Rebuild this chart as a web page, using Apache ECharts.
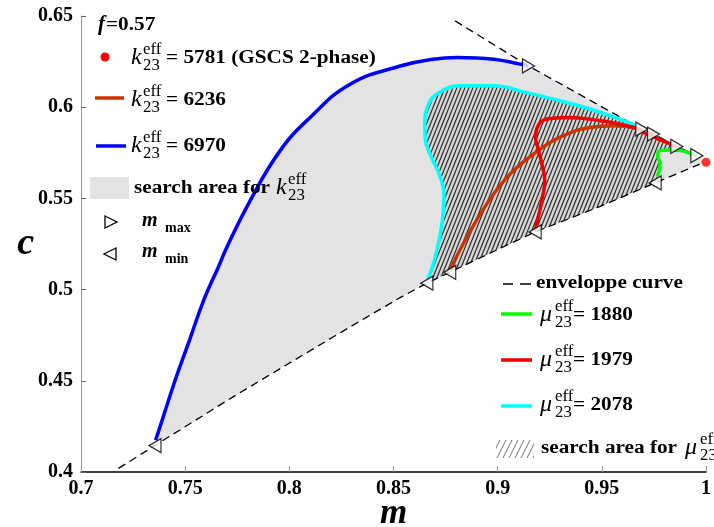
<!DOCTYPE html>
<html><head><meta charset="utf-8">
<script src="https://cdn.jsdelivr.net/npm/echarts@6/dist/echarts.min.js"></script>
<style>html,body{margin:0;padding:0;background:#fff}#c{width:714px;height:527px}</style>
</head><body><div id="c"></div>
<script>
// ---- tick labels ----
const xTickLabels = ['0.7','0.75','0.8','0.85','0.9','0.95','1'];
const yTickLabels = ['0.4','0.45','0.5','0.55','0.6','0.65'];

// ---- envelope curve (dashed) ----
const lowerEnvM = [0.718,0.7355,0.773,0.800,0.821,0.837,0.853,0.866,0.877,0.901,0.918,0.949,0.9756,0.997];
const lowerEnvC = [0.402,0.4145,0.4412,0.4597,0.474,0.4848,0.4955,0.5035,0.5095,0.5225,0.5316,0.5455,0.5585,0.5688];
const upperEnvM = [0.8796,0.9148,0.9692,0.9748,0.986,0.9956];
const upperEnvC = [0.6473,0.6226,0.588,0.5853,0.5785,0.5734];

// ---- k23eff = 6970 (blue) ----
const k6970M = [0.7358,0.7380,0.7451,0.7520,0.7590,0.7660,0.7700,0.7812,0.7956,0.8100,0.8292,0.8532,0.8690,0.8806,0.8980,0.9108,0.9148];
const k6970C = [0.4175,0.4250,0.4500,0.4720,0.4945,0.5125,0.5232,0.5488,0.5762,0.5944,0.6126,0.6226,0.6263,0.6272,0.6263,0.6236,0.6226];
// ---- k23eff = 6236 (dark red) ----
const k6236M = [0.8772,0.8852,0.8948,0.9060,0.9195,0.9316,0.9444,0.9560,0.9652,0.9699];
const k6236C = [0.5110,0.5287,0.5470,0.5634,0.5762,0.5844,0.5889,0.5898,0.5889,0.5865];
// ---- mu23eff = 2078 (cyan) ----
const mu2078M = [0.8665,0.8708,0.8738,0.8742,0.8720,0.8680,0.8652,0.8650,0.8662,0.8708,0.8820,0.8980,0.9140,0.9300,0.9444,0.9604,0.9684];
const mu2078C = [0.5055,0.5214,0.5415,0.5525,0.5630,0.5730,0.5830,0.5908,0.5998,0.6072,0.6117,0.6117,0.6080,0.6035,0.5990,0.5926,0.5889];
// ---- mu23eff = 1979 (red) ----
const mu1979M = [0.9180,0.9215,0.9226,0.9212,0.9192,0.9182,0.9190,0.9236,0.9332,0.9492,0.9652,0.9716,0.9812,0.9855];
const mu1979C = [0.5325,0.5506,0.5597,0.5689,0.5780,0.5830,0.5889,0.5935,0.5944,0.5926,0.5889,0.5853,0.5807,0.5785];
// ---- mu23eff = 1880 (green) ----
const mu1880M = [0.9766,0.9780,0.9768,0.9778,0.9828,0.9876,0.9924,0.9952];
const mu1880C = [0.5620,0.5689,0.5734,0.5762,0.5765,0.5762,0.5747,0.5734];

// ---- m_max / m_min markers ----
const mMaxM = [0.9148,0.9692,0.9748,0.986,0.9956];
const mMaxC = [0.6226,0.588,0.5853,0.5785,0.5734];
const mMinM = [0.7355,0.866,0.877,0.918,0.9756];
const mMinC = [0.4145,0.5035,0.5095,0.5316,0.5585];

// ---- GSCS 2-phase point (k23eff = 5781) ----
const gscsM = [1.0];
const gscsC = [0.5698];

const zip = (a, b) => a.map((v, i) => [v, b[i]]);
const SERIF = '"Liberation Serif", "Times New Roman", serif';

// polygons for the search areas, built from the curves above
const grayPoly = zip(k6970M, k6970C)
  .concat(zip(upperEnvM, upperEnvC).filter(p => p[0] > k6970M[k6970M.length - 1]))
  .concat(zip(gscsM, gscsC))
  .concat(zip(lowerEnvM, lowerEnvC).filter(p => p[0] >= k6970M[0] - 0.001).reverse());
const hatchPoly = zip(mu2078M, mu2078C)
  .concat(zip(upperEnvM, upperEnvC).filter(p => p[0] > mu2078M[mu2078M.length - 1]))
  .concat(zip(mu1880M, mu1880C).reverse())
  .concat(zip(lowerEnvM, lowerEnvC).filter(p => p[0] >= mu2078M[0] - 0.001 && p[0] <= mu1880M[0]).reverse());

function makeHatch(w, h, color, lw, bg) {
  const cv = document.createElement('canvas');
  cv.width = w; cv.height = h;
  const g = cv.getContext('2d');
  if (bg) { g.fillStyle = bg; g.fillRect(0, 0, w, h); }
  g.strokeStyle = color; g.lineWidth = lw;
  g.beginPath();
  for (let k = -1; k <= 1; k++) { g.moveTo(k * w, h); g.lineTo(k * w + w, 0); }
  g.stroke();
  return cv;
}
const hatchFill = { image: makeHatch(4, 10, '#383838', 1.35, '#d8d8d8'), repeat: 'repeat' };
const hatchLegendFill = { image: makeHatch(6, 12, '#8a8a8a', 1.1), repeat: 'repeat' };

function polySeries(points, fill, z) {
  return {
    type: 'custom', coordinateSystem: 'cartesian2d', silent: true, z: z,
    data: points, encode: { x: 0, y: 1 },
    renderItem: function (params, api) {
      if (params.dataIndex !== 0) return null;
      return { type: 'polygon', shape: { points: points.map(p => api.coord(p)) }, style: { fill: fill } };
    }
  };
}
function lineSeries(m, c, color, width, dash, z) {
  return {
    type: 'line', data: zip(m, c), showSymbol: false, symbol: 'none', smooth: dash ? false : 0.45,
    lineStyle: { color: color, width: width, type: dash || 'solid' }, z: z, silent: true
  };
}

// legend helpers (graphic)
function T(x, y, s, font, extra) {
  return Object.assign({ type: 'text', x: x, y: y, z: 100,
    style: { text: s, font: font, fill: '#000', verticalAlign: 'middle', align: 'left' } }, extra || {});
}
const BOLD = 'bold 18px ' + SERIF;
const SX = 1.18;
function mathLabel(sym, x, yc, supX, rest, restX) {
  const arr = [
    T(x, yc, sym, 'italic 24px ' + SERIF),
    T(supX, yc - 8, 'eff', '16px ' + SERIF, { scaleX: 1.05 }),
    T(supX, yc + 8, '23', '16px ' + SERIF, { scaleX: 1.05 })
  ];
  if (rest) arr.push(T(restX, yc, rest, BOLD, { scaleX: SX }));
  return arr;
}
const graphics = [].concat(
  [T(98, 25, 'f', 'bold italic 21px ' + SERIF), T(106, 25, '=0.57', BOLD, { scaleX: SX })],
  [{ type: 'circle', shape: { cx: 105, cy: 57, r: 4.5 }, style: { fill: '#ff0000' }, z: 100 }],
  mathLabel('k', 131, 58, 143, '= 5781 (GSCS 2-phase)', 166),
  [{ type: 'line', shape: { x1: 95, y1: 98, x2: 124, y2: 98 }, style: { stroke: '#cc3300', lineWidth: 3.5 }, z: 100 }],
  mathLabel('k', 131, 100, 143, '= 6236', 166),
  [{ type: 'line', shape: { x1: 96, y1: 146, x2: 126, y2: 146 }, style: { stroke: '#0000ff', lineWidth: 3.5 }, z: 100 }],
  mathLabel('k', 131, 146, 143, '= 6970', 166),
  [{ type: 'rect', shape: { x: 90, y: 177, width: 39, height: 22 }, style: { fill: '#e3e3e3' }, z: 100 },
   T(134, 188, 'search area for', BOLD, { scaleX: SX })],
  mathLabel('k', 276, 188, 288, null, 0),
  [{ type: 'polygon', shape: { points: [[105, 216], [117, 222], [105, 228]] }, style: { fill: '#fff', stroke: '#000', lineWidth: 1.3 }, z: 100 },
   T(142, 221, 'm', 'bold italic 20px ' + SERIF), T(165, 228, 'max', 'bold 14px ' + SERIF),
   { type: 'polygon', shape: { points: [[116, 248], [104, 254], [116, 260]] }, style: { fill: '#fff', stroke: '#000', lineWidth: 1.3 }, z: 100 },
   T(142, 252, 'm', 'bold italic 20px ' + SERIF), T(165, 259, 'min', 'bold 14px ' + SERIF)],
  // bottom-right legend
  [{ type: 'line', shape: { x1: 503, y1: 284, x2: 513, y2: 284 }, style: { stroke: '#000', lineWidth: 1.5 }, z: 100 },
   { type: 'line', shape: { x1: 520, y1: 284, x2: 531, y2: 284 }, style: { stroke: '#000', lineWidth: 1.5 }, z: 100 },
   T(536, 283, 'enveloppe curve', BOLD, { scaleX: SX })],
  [{ type: 'line', shape: { x1: 501, y1: 314, x2: 532, y2: 314 }, style: { stroke: '#00ff00', lineWidth: 3.5 }, z: 100 }],
  mathLabel('\u03bc', 540, 315, 555, '= 1880', 573),
  [{ type: 'line', shape: { x1: 501, y1: 360, x2: 532, y2: 360 }, style: { stroke: '#ee0000', lineWidth: 3.5 }, z: 100 }],
  mathLabel('\u03bc', 540, 360, 555, '= 1979', 573),
  [{ type: 'line', shape: { x1: 501, y1: 406, x2: 532, y2: 406 }, style: { stroke: '#00ffff', lineWidth: 3.5 }, z: 100 }],
  mathLabel('\u03bc', 540, 405, 555, '= 2078', 573),
  [{ type: 'rect', shape: { x: 496, y: 440, width: 38, height: 18 }, style: { fill: hatchLegendFill }, z: 100 },
   T(541, 448, 'search area for', BOLD, { scaleX: SX })],
  mathLabel('\u03bc', 685, 448, 700, null, 0)
);

const chart = echarts.init(document.getElementById('c'), null, { renderer: 'canvas' });
chart.setOption({
  animation: false,
  backgroundColor: '#ffffff',
  grid: { left: 81, right: 8, top: 16, bottom: 55, containLabel: false, outerBoundsMode: 'none' },
  xAxis: {
    type: 'value', min: 0.7, max: 1.0, interval: 0.05,
    axisLine: { show: true, onZero: false, lineStyle: { color: '#000', width: 1.5 } },
    axisTick: { show: true, inside: true, length: 6, lineStyle: { color: '#999' } },
    splitLine: { show: false },
    axisLabel: { fontFamily: SERIF, fontWeight: 'bold', fontSize: 20, color: '#000', margin: 7,
      formatter: v => xTickLabels[Math.round((v - 0.7) / 0.05)] },
    name: 'm', nameLocation: 'middle', nameGap: 24, nameMoveOverlap: false,
    nameTextStyle: { fontFamily: SERIF, fontStyle: 'italic', fontWeight: 'bold', fontSize: 35, color: '#000' }
  },
  yAxis: {
    type: 'value', min: 0.4, max: 0.65, interval: 0.05,
    axisLine: { show: true, onZero: false, lineStyle: { color: '#999', width: 1 } },
    axisTick: { show: true, inside: true, length: 5, lineStyle: { color: '#666' } },
    splitLine: { show: false },
    axisLabel: { fontFamily: SERIF, fontWeight: 'bold', fontSize: 20, color: '#000', margin: 8,
      formatter: v => yTickLabels[Math.round((v - 0.4) / 0.05)] },
    name: 'c', nameLocation: 'middle', nameGap: 47, nameRotate: 0, nameMoveOverlap: false,
    nameTextStyle: { fontFamily: SERIF, fontStyle: 'italic', fontWeight: 'bold', fontSize: 38, color: '#000' }
  },
  series: [
    polySeries(grayPoly, '#e3e3e3', 1),
    polySeries(hatchPoly, hatchFill, 2),
    lineSeries(lowerEnvM, lowerEnvC, '#000', 1.3, [8, 5], 3),
    lineSeries(upperEnvM, upperEnvC, '#000', 1.3, [8, 5], 3),
    lineSeries(k6970M, k6970C, '#0000ff', 3.5, null, 4),
    lineSeries(mu2078M, mu2078C, '#00ffff', 3.5, null, 4),
    lineSeries(k6236M, k6236C, '#cc3300', 3.5, null, 5),
    lineSeries(mu1979M, mu1979C, '#ee0000', 3.5, null, 5),
    lineSeries(mu1880M, mu1880C, '#00ff00', 3.5, null, 5),
    { type: 'scatter', data: zip(mMaxM, mMaxC), symbol: 'path://M0,0L12,7L0,14Z', symbolSize: [12, 14], clip: false,
      itemStyle: { color: '#fff', borderColor: '#000', borderWidth: 1.3 }, z: 6, silent: true },
    { type: 'scatter', data: zip(mMinM, mMinC), symbol: 'path://M12,0L0,7L12,14Z', symbolSize: [12, 14], clip: false,
      itemStyle: { color: '#fff', borderColor: '#000', borderWidth: 1.3 }, z: 6, silent: true },
    { type: 'scatter', data: zip(gscsM, gscsC), symbol: 'circle', symbolSize: 9, clip: false,
      itemStyle: { color: '#ff0000' }, z: 7, silent: true }
  ],
  graphic: graphics
});
</script></body></html>
